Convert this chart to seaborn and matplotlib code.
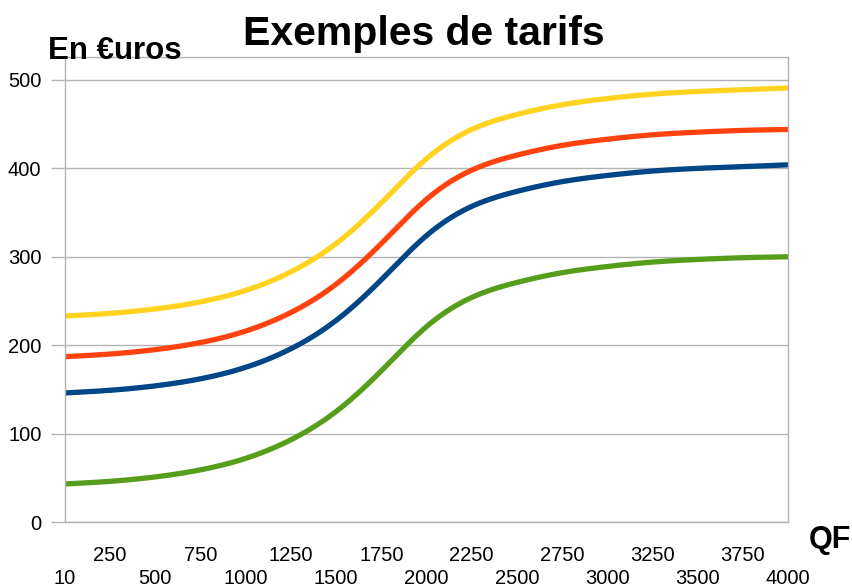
import numpy as np
import pandas as pd
import matplotlib
matplotlib.use("Agg")
import matplotlib.pyplot as plt
import seaborn as sns

# Quotient familial categories (x axis)
qf = ["10", "250", "500", "750", "1000", "1250", "1500", "1750", "2000",
      "2250", "2500", "2750", "3000", "3250", "3500", "3750", "4000"]

# Tariffs in euros for each QF category
tarif_jaune = [233, 236, 241, 249, 262, 283, 315, 361, 411, 444, 461, 472, 479, 484, 487, 489, 491]
tarif_rouge = [187, 190, 195, 203, 216, 237, 269, 315, 365, 398, 415, 426, 433, 438, 441, 443, 444]
tarif_bleu = [146, 149, 154, 162, 175, 196, 228, 274, 324, 357, 374, 385, 392, 397, 400, 402, 404]
tarif_vert = [43, 46, 51, 59, 72, 93, 125, 171, 221, 254, 271, 282, 289, 294, 297, 299, 300]

y_ticks = [0, 100, 200, 300, 400, 500]

series = {
    "bleu": (tarif_bleu, "#004586"),
    "rouge": (tarif_rouge, "#FF420E"),
    "jaune": (tarif_jaune, "#FFD320"),
    "vert": (tarif_vert, "#579D1C"),
}


def natural_spline(x, y, xs):
    """Natural cubic spline through (x, y), evaluated at xs."""
    x = np.asarray(x, float)
    y = np.asarray(y, float)
    n = len(x)
    h = np.diff(x)
    A = np.zeros((n, n))
    b = np.zeros(n)
    A[0, 0] = A[-1, -1] = 1.0
    for i in range(1, n - 1):
        A[i, i - 1] = h[i - 1]
        A[i, i] = 2 * (h[i - 1] + h[i])
        A[i, i + 1] = h[i]
        b[i] = 6 * ((y[i + 1] - y[i]) / h[i] - (y[i] - y[i - 1]) / h[i - 1])
    m = np.linalg.solve(A, b)
    idx = np.clip(np.searchsorted(x, xs) - 1, 0, n - 2)
    x0, x1 = x[idx], x[idx + 1]
    hh = x1 - x0
    t0 = x1 - xs
    t1 = xs - x0
    return (m[idx] * t0 ** 3 / (6 * hh) + m[idx + 1] * t1 ** 3 / (6 * hh)
            + (y[idx] / hh - m[idx] * hh / 6) * t0
            + (y[idx + 1] / hh - m[idx + 1] * hh / 6) * t1)


pos = np.arange(len(qf))
xs = np.linspace(0, len(qf) - 1, 400)
frames = []
for name, (vals, _) in series.items():
    frames.append(pd.DataFrame({"pos": xs, "tarif": natural_spline(pos, vals, xs), "serie": name}))
df = pd.concat(frames, ignore_index=True)
palette = {name: col for name, (_, col) in series.items()}

sns.set_theme(style="white")
plt.rcParams["font.family"] = ["Liberation Sans", "DejaVu Sans"]

fig = plt.figure(figsize=(8.52, 5.88), dpi=100)
ax = fig.add_axes([65 / 852, 1 - 522 / 588, (788 - 65) / 852, (522 - 57) / 588])

sns.lineplot(data=df, x="pos", y="tarif", hue="serie", palette=palette,
             linewidth=3.8, legend=False, ax=ax, sort=False, estimator=None)

grid_col = "#b3b3b3"
ax.set_xlim(0, len(qf) - 1)
ax.set_ylim(0, 526)
ax.set_yticks(y_ticks)
ax.set_yticklabels([str(v) for v in y_ticks])
ax.yaxis.grid(True, color=grid_col, linewidth=1.0)
ax.xaxis.grid(False)
ax.set_axisbelow(True)
for s in ax.spines.values():
    s.set_color(grid_col)
    s.set_linewidth(1.0)

# staggered category labels: even positions on the lower row, odd on the upper row
ax.set_xticks(pos[::2])
ax.set_xticklabels(qf[::2])
ax.set_xticks(pos[1::2], minor=True)
ax.set_xticklabels(qf[1::2], minor=True)
ax.tick_params(axis="x", which="major", length=10, width=1, color=grid_col,
               pad=24, labelsize=14.5, labelcolor="#000000")
ax.tick_params(axis="x", which="minor", length=10, width=1, color=grid_col,
               pad=7, labelsize=14.5, labelcolor="#000000")
ax.tick_params(axis="y", length=10, width=1, color=grid_col, pad=7,
               labelsize=14.5, labelcolor="#000000", left=True)
ax.set_xlabel("")
ax.set_ylabel("")

fig.text(424 / 852, 1 - 45 / 588, "Exemples de tarifs", ha="center", va="baseline",
         fontsize=29.5, fontweight="bold", color="#000000")
fig.text(48 / 852, 1 - 59 / 588, "En €uros", ha="left", va="baseline",
         fontsize=22.5, fontweight="bold", color="#000000")
fig.text(809 / 852, 1 - 548 / 588, "QF", ha="left", va="baseline",
         fontsize=22, fontweight="bold", color="#000000")

fig.savefig("out.png", dpi=100)
